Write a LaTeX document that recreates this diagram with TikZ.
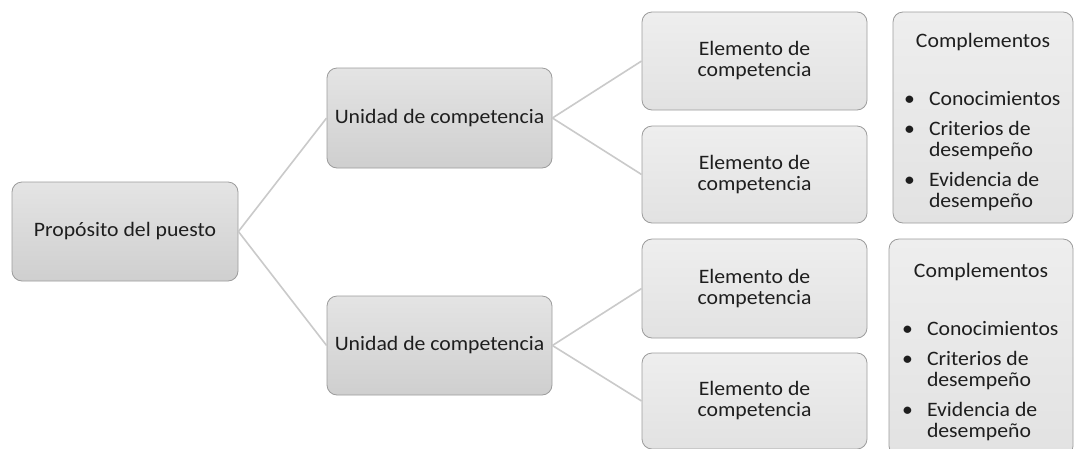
\documentclass[tikz,border=0pt]{standalone}
\usepackage{fontspec}
\usepackage{array}
\setmainfont{Carlito}[FakeStretch=1.06]
\definecolor{boxline}{HTML}{9C9C9C}
\definecolor{linkgray}{HTML}{CACACA}
\definecolor{txt}{HTML}{1E1E1E}
\definecolor{darktop}{HTML}{E4E4E4}
\definecolor{darkbot}{HTML}{CFCFCF}
\definecolor{lighttop}{HTML}{EEEEEE}
\definecolor{lightbot}{HTML}{E2E2E2}
\tikzset{
  x=1pt, y=1pt,
  basebox/.style={draw=boxline, line width=0.8pt, rounded corners=10pt, inner sep=0pt,
    align=center, text=txt, font=\fontsize{20.5}{21}\selectfont},
  darkbox/.style={basebox, top color=darktop, bottom color=darkbot},
  lightbox/.style={basebox, top color=lighttop, bottom color=lightbot},
  link/.style={draw=linkgray, line width=1.6pt},
}
\newcommand{\complist}{%
  \begin{minipage}{158pt}\vspace*{12pt}\centering Complementos\par\vspace{39pt}%
  \raggedright\renewcommand{\arraystretch}{1}%
  \begin{tabular}{@{}p{25pt}@{}l@{}}
  •&Conocimientos\\[9pt]
  •&Criterios de\\
   &desempeño\\[9pt]
  •&Evidencia de\\
   &desempeño
  \end{tabular}%
  \end{minipage}}
\begin{document}
\begin{tikzpicture}
\useasboundingbox (0,0) rectangle (1076,-448);
\clip (0,0) rectangle (1076,-448);
\fill[white] (0,0) rectangle (1076,-448);
\node[darkbox, minimum width=226, minimum height=99] (p) at (125,-231.5) {Propósito del puesto};
\node[darkbox, minimum width=225, minimum height=100] (u1) at (439.5,-118) {Unidad de competencia};
\node[darkbox, minimum width=225, minimum height=99] (u2) at (439.5,-345.5) {Unidad de competencia};
\node[lightbox, minimum width=225, minimum height=98] (e1) at (754.5,-61) {Elemento de\\competencia};
\node[lightbox, minimum width=225, minimum height=97] (e2) at (754.5,-174.5) {Elemento de\\competencia};
\node[lightbox, minimum width=225, minimum height=99] (e3) at (754.5,-288.5) {Elemento de\\competencia};
\node[lightbox, minimum width=225, minimum height=96] (e4) at (754.5,-401) {Elemento de\\competencia};
\node[lightbox, minimum width=180, minimum height=211] (c1) at (983,-117.5) {\complist};
\node[lightbox, minimum width=184, minimum height=217] (c2) at (981,-347.5) {\complist};
\draw[link] (p.east) -- (u1.west);
\draw[link] (p.east) -- (u2.west);
\draw[link] (u1.east) -- (e1.west);
\draw[link] (u1.east) -- (e2.west);
\draw[link] (u2.east) -- (e3.west);
\draw[link] (u2.east) -- (e4.west);
\end{tikzpicture}
\end{document}
